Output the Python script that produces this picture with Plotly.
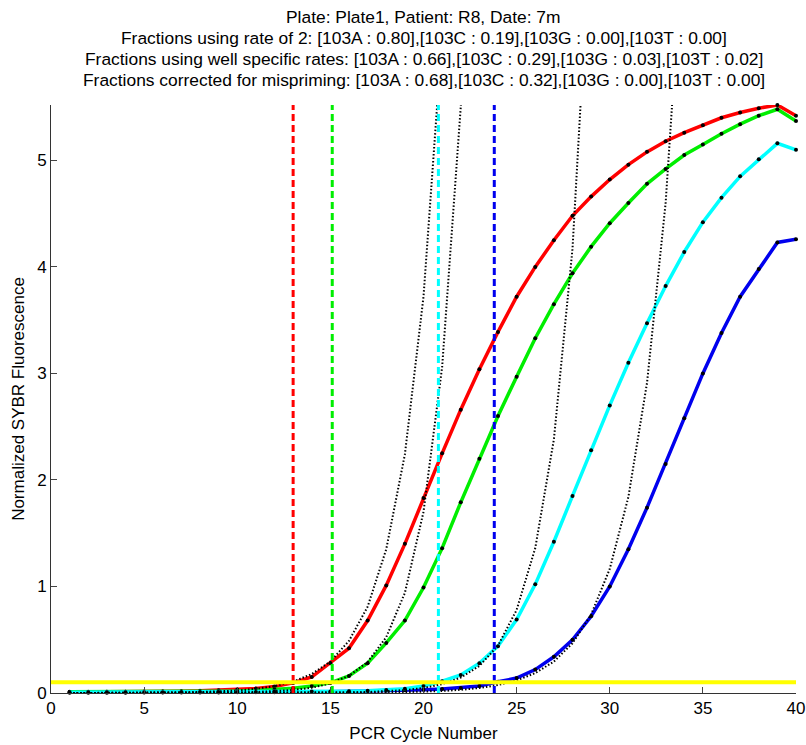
import plotly.graph_objects as go

# ---------------- data ----------------
cycles = list(range(1, 41))

red_103A = [0.010, 0.010, 0.011, 0.012, 0.013, 0.015, 0.017, 0.020, 0.025, 0.032,
            0.042, 0.060, 0.095, 0.150, 0.280, 0.420, 0.680, 1.010, 1.400, 1.830,
            2.250, 2.660, 3.040, 3.390, 3.720, 4.000, 4.250, 4.480, 4.660, 4.820,
            4.960, 5.080, 5.180, 5.260, 5.330, 5.400, 5.450, 5.490, 5.520, 5.420]

green_103C = [0.012, 0.012, 0.012, 0.012, 0.012, 0.013, 0.013, 0.014, 0.016, 0.019,
              0.024, 0.032, 0.045, 0.065, 0.095, 0.160, 0.280, 0.470, 0.680, 0.990,
              1.360, 1.790, 2.200, 2.600, 2.970, 3.330, 3.650, 3.940, 4.190, 4.410,
              4.600, 4.780, 4.920, 5.050, 5.150, 5.250, 5.340, 5.420, 5.480, 5.370]

cyan_103G = [0.008, 0.008, 0.008, 0.008, 0.008, 0.008, 0.009, 0.009, 0.009, 0.010,
             0.010, 0.011, 0.012, 0.013, 0.014, 0.016, 0.020, 0.028, 0.040, 0.065,
             0.110, 0.170, 0.280, 0.440, 0.690, 1.020, 1.420, 1.850, 2.280, 2.700,
             3.100, 3.470, 3.820, 4.140, 4.420, 4.650, 4.850, 5.010, 5.160, 5.100]

blue_103T = [0.003, 0.003, 0.003, 0.003, 0.004, 0.004, 0.004, 0.005, 0.005, 0.006,
             0.007, 0.008, 0.009, 0.010, 0.012, 0.014, 0.017, 0.020, 0.025, 0.030,
             0.038, 0.048, 0.065, 0.105, 0.140, 0.220, 0.340, 0.500, 0.720, 1.000,
             1.350, 1.740, 2.150, 2.580, 3.000, 3.380, 3.720, 3.980, 4.230, 4.260]

# dotted exponential fits (continue above the top)
fit_red = [0.000, 0.000, 0.001, 0.001, 0.002, 0.003, 0.005, 0.009, 0.014, 0.023,
           0.039, 0.065, 0.107, 0.178, 0.295, 0.490, 0.810, 1.350, 2.240, 3.720, 6.170]
fit_green = [0.000, 0.000, 0.000, 0.000, 0.000, 0.001, 0.001, 0.001, 0.003, 0.005,
             0.009, 0.016, 0.028, 0.050, 0.090, 0.162, 0.291, 0.524, 0.940, 1.700,
             3.060, 5.500, 9.900]
fit_cyan = [0.000, 0.000, 0.000, 0.000, 0.000, 0.000, 0.000, 0.000, 0.000, 0.000,
            0.000, 0.001, 0.001, 0.002, 0.003, 0.005, 0.009, 0.016, 0.027, 0.047,
            0.083, 0.145, 0.254, 0.445, 0.780, 1.360, 2.380, 4.170, 7.300]
fit_blue = [0.000, 0.000, 0.000, 0.000, 0.000, 0.000, 0.000, 0.000, 0.000, 0.000,
            0.000, 0.000, 0.001, 0.001, 0.001, 0.002, 0.003, 0.005, 0.008, 0.012,
            0.019, 0.030, 0.047, 0.075, 0.118, 0.187, 0.295, 0.467, 0.737, 1.165,
            1.840, 2.910, 4.600, 7.260]

# threshold crossing cycles (vertical dashed lines)
ct_values = [13.0, 15.1, 20.8, 23.8]
threshold = 0.1

title_lines = [
    "Plate: Plate1, Patient: R8, Date: 7m",
    "Fractions using rate of 2: [103A : 0.80],[103C : 0.19],[103G : 0.00],[103T : 0.00]",
    "Fractions using well specific rates: [103A : 0.66],[103C : 0.29],[103G : 0.03],[103T : 0.02]",
    "Fractions corrected for mispriming: [103A : 0.68],[103C : 0.32],[103G : 0.00],[103T : 0.00]",
]
x_ticks = [0, 5, 10, 15, 20, 25, 30, 35, 40]
y_ticks = [0, 1, 2, 3, 4, 5]
x_range = [0, 40]
y_range = [0, 5.52]

# ---------------- styles ----------------
colors = ["#FF0000", "#00EE00", "#00FFFF", "#0000EE"]
FONT = "Arial, Liberation Sans, sans-serif"

fig = go.Figure()

series = [red_103A, green_103C, blue_103T, cyan_103G]
series_colors = [colors[0], colors[1], colors[3], colors[2]]
for ys, c in zip(series, series_colors):
    fig.add_trace(go.Scatter(
        x=cycles, y=ys, mode="lines+markers",
        line=dict(color=c, width=3.5),
        marker=dict(color="black", size=4),
        cliponaxis=False, showlegend=False, hoverinfo="skip"))

for fit in [fit_red, fit_green, fit_cyan, fit_blue]:
    fig.add_trace(go.Scatter(
        x=cycles[:len(fit)], y=fit, mode="lines",
        line=dict(color="black", width=2, dash="1.5px,2px"),
        showlegend=False, hoverinfo="skip"))

for ct, c in zip(ct_values, colors):
    fig.add_trace(go.Scatter(
        x=[ct, ct], y=y_range, mode="lines",
        line=dict(color=c, width=3, dash="7px,4px"),
        showlegend=False, hoverinfo="skip"))

fig.add_trace(go.Scatter(
    x=x_range, y=[threshold, threshold], mode="lines",
    line=dict(color="#FFFF00", width=4),
    showlegend=False, hoverinfo="skip"))

W, H = 806, 745
ML, MR, MT, MB = 51, 10, 105, 52
plot_h = H - MT - MB
title_y_px = [17, 38, 59, 80]
for txt, ypx in zip(title_lines, title_y_px):
    fig.add_annotation(
        text=txt, xref="paper", yref="paper", x=0.5,
        y=(H - MB - ypx) / plot_h, xanchor="center", yanchor="middle",
        showarrow=False, font=dict(family=FONT, size=17.4, color="black"))

axis_common = dict(
    showline=True, linecolor="#333333", linewidth=1, mirror=False,
    ticks="inside", ticklen=6, tickcolor="#444444", tickwidth=1,
    showgrid=False, zeroline=False, automargin=False,
    tickfont=dict(family=FONT, size=17, color="black"),
)

fig.update_layout(
    width=W, height=H,
    margin=dict(l=ML, r=MR, t=MT, b=MB, pad=0, autoexpand=False),
    paper_bgcolor="white", plot_bgcolor="white",
    showlegend=False,
    xaxis=dict(range=x_range, tickvals=x_ticks, **axis_common,
               title=dict(text="PCR Cycle Number",
                          font=dict(family=FONT, size=17, color="black"),
                          standoff=9)),
    yaxis=dict(range=y_range, tickvals=y_ticks, **axis_common,
               title=dict(text="Normalized SYBR Fluorescence",
                          font=dict(family=FONT, size=17, color="black"),
                          standoff=8)),
)

fig.write_html("out.html")
